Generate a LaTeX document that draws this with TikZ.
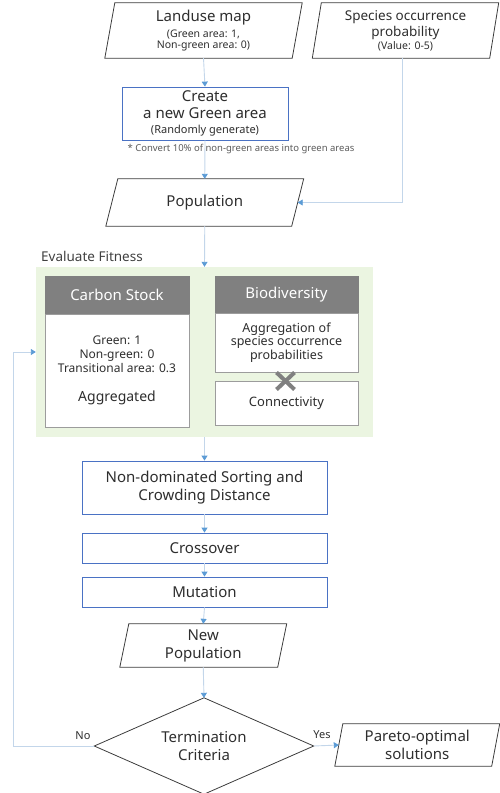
\documentclass[tikz,border=0pt]{standalone}
\usepackage{fontspec}
\setmainfont{Noto Sans}
\usetikzlibrary{arrows.meta,calc}
\definecolor{txt}{HTML}{2E2E2E}
\definecolor{lineblue}{HTML}{C3D6EA}
\definecolor{arrowblue}{HTML}{5B9BD5}
\definecolor{boxblue}{HTML}{4A72C4}
\definecolor{paraline}{HTML}{3C3C3C}
\definecolor{greenbg}{HTML}{EBF5E1}
\definecolor{headgray}{HTML}{808080}
\definecolor{bodygray}{HTML}{9C9C9C}
\definecolor{notegray}{HTML}{5A5A5A}
\tikzset{
  fbig/.style={font=\fontsize{15}{18}\selectfont},
  flowline/.style={draw=lineblue, line width=0.9pt, -{Triangle[length=5pt,width=6pt,color=arrowblue]}},
  bluebox/.style={draw=boxblue, line width=0.8pt, fill=white, text=txt, align=center, inner sep=0pt},
  paranode/.style={draw=none, text=txt, align=center, inner sep=0pt},
  parashape/.style={draw=paraline, line width=0.8pt},
  headbox/.style={fill=headgray, draw=headgray, line width=0.8pt, text=white, inner sep=0pt, font=\fontsize{15}{18}\selectfont},
  bodybox/.style={fill=white, draw=bodygray, line width=1pt, text=txt, align=center, inner sep=0pt},
}
\newcommand\parashp[2]{\draw[parashape] ([xshift=#2pt]#1.north west) -- ([xshift=#2pt]#1.north east) -- ([xshift=-#2pt]#1.south east) -- ([xshift=-#2pt]#1.south west) -- cycle;}
\newcommand\fsz[1]{\fontsize{#1}{#1}\selectfont}
\begin{document}
\begin{tikzpicture}[x=1pt,y=-1pt]
\useasboundingbox (0,0) rectangle (499,793);
% inputs
\node[paranode, minimum width=187pt, minimum height=55pt, font=\fontsize{10.5}{11.5}\selectfont] (land) at (203.5,30.5)
  {{\fsz{15}Landuse map}\\[4.5pt](Green area: 1,\\Non-green area: 0)};
\parashp{land}{5}
\node[paranode, minimum width=177pt, minimum height=55pt, font=\fontsize{13.5}{16}\selectfont] (spec) at (405.5,30.5)
  {Species occurrence\\probability\\[-3pt]{\fsz{10.5}(Value: 0-5)}};
\parashp{spec}{4.5}
% create
\node[bluebox, minimum width=166pt, minimum height=53pt, font=\fontsize{15}{17}\selectfont] (create) at (205,113.5)
  {Create\\a new Green area\\[-2pt]{\fsz{11}(Randomly generate)}};
\node[text=notegray, font=\fontsize{9.5}{11}\selectfont, inner sep=0pt] (note) at (241,149) {* Convert 10\% of non-green areas into green areas};
% population
\node[paranode, fbig, minimum width=185.5pt, minimum height=47pt] (pop) at (204.75,202.5) {Population};
\parashp{pop}{6}
% evaluate fitness
\node[anchor=west, text=black!75, font=\fontsize{13.5}{16}\selectfont, inner sep=0pt] (evl) at (41,256) {Evaluate Fitness};
\node[fill=greenbg, draw=none, minimum width=337pt, minimum height=170pt, inner sep=0pt] (green) at (204.5,352) {};
\node[headbox, minimum width=144pt, minimum height=38pt] (chead) at (117,295) {Carbon Stock};
\node[bodybox, minimum width=144pt, minimum height=113pt, font=\fontsize{12}{14}\selectfont] (cbody) at (117,370.5)
  {Green: 1\\Non-green: 0\\Transitional area: 0.3\\[15pt]{\fsz{14}Aggregated}};
\node[headbox, minimum width=143pt, minimum height=37pt] (bhead) at (286.5,294.5) {Biodiversity};
\node[bodybox, minimum width=143pt, minimum height=59pt, font=\fontsize{12.5}{13.5}\selectfont] (bbody) at (286.5,342.5)
  {Aggregation of\\species occurrence\\probabilities};
\node[bodybox, minimum width=143pt, minimum height=44pt, font=\fontsize{13}{15}\selectfont] (conn) at (286.5,403) {Connectivity};
\draw[headgray, line width=4pt] (276.5,372.5) -- (294.5,389.5) (276.5,389.5) -- (294.5,372.5);
% GA steps
\node[bluebox, fbig, minimum width=245pt, minimum height=53pt] (nds) at (204.5,487.5) {Non-dominated Sorting and\\Crowding Distance};
\node[bluebox, fbig, minimum width=245pt, minimum height=30pt] (cross) at (204.5,548) {Crossover};
\node[bluebox, fbig, minimum width=245pt, minimum height=30pt] (mut) at (204.5,592) {Mutation};
\node[paranode, fbig, minimum width=157.5pt, minimum height=43pt] (newpop) at (203.25,645.5) {New\\Population};
\parashp{newpop}{4.5}
% termination
\node[paranode, fbig, minimum width=219pt, minimum height=96pt] (term) at (204,746) {Termination\\Criteria};
\draw[parashape] (term.north) -- (term.east) -- (term.south) -- (term.west) -- cycle;
\node[paranode, fbig, minimum width=156.5pt, minimum height=42pt] (pareto) at (417.25,745) {Pareto-optimal\\solutions};
\parashp{pareto}{4}
\node[text=txt, font=\fontsize{11}{13}\selectfont, inner sep=0pt] (no) at (83,736) {No};
\node[text=txt, font=\fontsize{11}{13}\selectfont, inner sep=0pt] (yes) at (322,735) {Yes};
% connectors
\coordinate (fbc) at (13,352);
\draw[flowline] (land.south) -- (create.north);
\draw[flowline] (create.south) -- (pop.north);
\draw[flowline] ([xshift=-3.5pt]spec.south) |- (pop.east);
\draw[flowline] (pop.south) -- (green.north);
\draw[flowline] (green.south) -- (nds.north);
\draw[flowline] (nds.south) -- (cross.north);
\draw[flowline] (cross.south) -- (mut.north);
\draw[flowline] (mut.south) -- (newpop.north);
\draw[flowline] (newpop.south) -- (term.north);
\draw[flowline] (term.east) -- (pareto.west);
\draw[flowline] (term.west) -| (fbc) -- (green.west);
\end{tikzpicture}
\end{document}
